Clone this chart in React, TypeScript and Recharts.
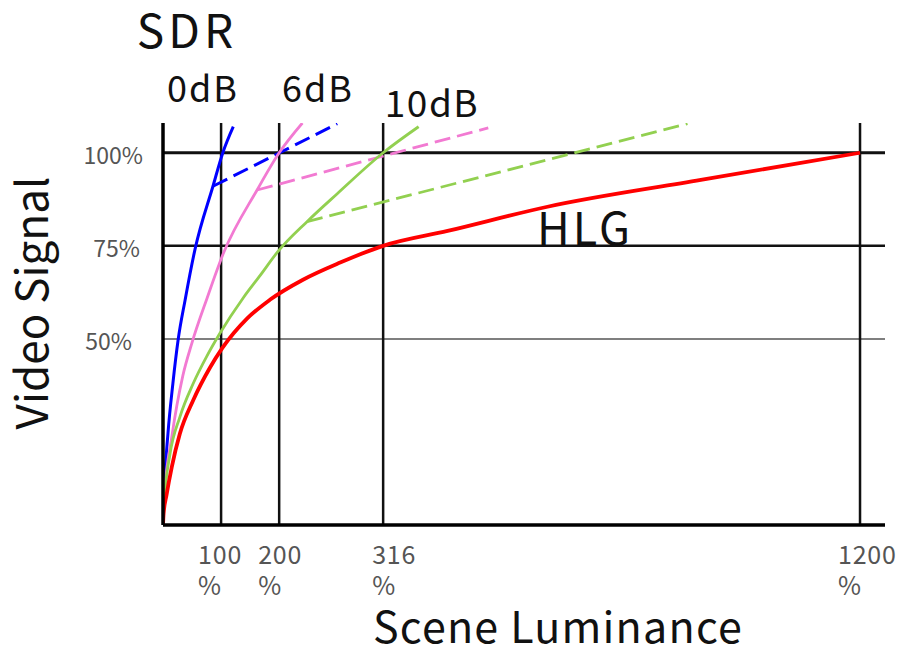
import { LineChart, Line, XAxis, YAxis, ReferenceLine } from "recharts"

// x positions follow the drawing's own spacing (the 316% line sits at 379 on a linear scale)
const xTickValues = [100, 200, 379, 1200]
const xTickLabels = ["100", "200", "316", "1200"]
const yTicks = [50, 75, 100]

const sdr0 = [
  { u: 0, v: 0 }, { u: 2, v: 9 }, { u: 8.6, v: 24.7 }, { u: 17, v: 38 }, { u: 26, v: 49.7 },
  { u: 38, v: 60.4 }, { u: 55, v: 74 }, { u: 86, v: 91 }, { u: 103, v: 100 }, { u: 121, v: 107 },
]
const sdr0Knee = [{ u: 86, v: 91 }, { u: 300, v: 107.8 }]

const sdr6 = [
  { u: 0, v: 0 }, { u: 2, v: 7 }, { u: 15.5, v: 24 }, { u: 34, v: 40 }, { u: 50, v: 49 },
  { u: 76, v: 61 }, { u: 104, v: 73 }, { u: 162, v: 90 }, { u: 200, v: 100 }, { u: 240, v: 108 },
]
const sdr6Knee = [{ u: 162, v: 90 }, { u: 560, v: 106.7 }]

const sdr10 = [
  { u: 0, v: 0 }, { u: 2, v: 6 }, { u: 12, v: 19 }, { u: 29, v: 29 }, { u: 52, v: 38 },
  { u: 76, v: 45.5 }, { u: 98, v: 51.5 }, { u: 138, v: 61 }, { u: 167, v: 67 },
  { u: 198, v: 73.5 }, { u: 248, v: 81.5 }, { u: 300, v: 89 }, { u: 379, v: 100 }, { u: 440, v: 107 },
]
const sdr10Knee = [{ u: 248, v: 81.5 }, { u: 903, v: 107.8 }]

const hlg = [
  { u: 0, v: 0 }, { u: 1, v: 3 }, { u: 6, v: 8 }, { u: 15, v: 15.5 }, { u: 29, v: 24.5 },
  { u: 52, v: 33.5 }, { u: 81, v: 42.3 }, { u: 102, v: 47.5 }, { u: 145, v: 55.5 },
  { u: 184, v: 60.5 }, { u: 241, v: 65.9 }, { u: 305, v: 70.5 }, { u: 379, v: 75 },
  { u: 490, v: 79 }, { u: 662, v: 85.5 }, { u: 926, v: 92.7 }, { u: 1200, v: 100 },
]

const font = '"Noto Sans CJK JP", "Noto Sans", sans-serif'
const xTickShift = [-23, -21, -11, -22]
const yTickShift = [-31, -23, -20]

function XTick({ x, y, payload }: any) {
  const i = xTickValues.indexOf(payload.value)
  const left = x + (xTickShift[i] ?? -20)
  return (
    <g>
      <text x={left} y={y + 39} fontSize={25} letterSpacing={0.8} fill="#555" fontFamily={font}>{xTickLabels[i]}</text>
      <text x={left} y={y + 70} fontSize={25} fill="#555" fontFamily={font}>%</text>
    </g>
  )
}

function YTick({ x, y, payload }: any) {
  const i = yTicks.indexOf(payload.value)
  return (
    <text x={x + (yTickShift[i] ?? -22)} y={y + 11} textAnchor="end" fontSize={23} fill="#555" fontFamily={font}>
      {payload.value}%
    </text>
  )
}

const dash = "16 7"

export default function App() {
  return (
    <div style={{ position: "absolute", left: 0, top: 0 }}>
      <LineChart width={898} height={655} margin={{ top: 123, right: 13, bottom: 0, left: 0 }}>
        <XAxis
          dataKey="u"
          type="number"
          domain={[0, 1243]}
          ticks={xTickValues}
          tick={<XTick />}
          tickSize={0}
          tickMargin={0}
          tickLine={false}
          height={130}
          axisLine={{ stroke: "#000", strokeWidth: 3.5 }}
          allowDataOverflow
        />
        <YAxis
          type="number"
          domain={[0, 108]}
          ticks={yTicks}
          tick={<YTick />}
          tickSize={0}
          tickMargin={0}
          tickLine={false}
          width={163}
          axisLine={{ stroke: "#000", strokeWidth: 3.5 }}
          allowDataOverflow
        />
        {yTicks.map((t) => (
          <ReferenceLine key={"h" + t} y={t} stroke={t === 50 ? "#555" : "#111"} strokeWidth={t === 50 ? 1.5 : t === 100 ? 3 : 2.5} />
        ))}
        {xTickValues.map((t) => (
          <ReferenceLine key={"v" + t} x={t} stroke="#111" strokeWidth={2.5} />
        ))}
        <Line data={sdr0Knee} dataKey="v" type="linear" stroke="#0000ff" strokeWidth={3} strokeDasharray={dash} dot={false} activeDot={false} isAnimationActive={false} />
        <Line data={sdr6Knee} dataKey="v" type="linear" stroke="#f27ad2" strokeWidth={2.8} strokeDasharray={dash} dot={false} activeDot={false} isAnimationActive={false} />
        <Line data={sdr10Knee} dataKey="v" type="linear" stroke="#92d050" strokeWidth={2.8} strokeDasharray={dash} dot={false} activeDot={false} isAnimationActive={false} />
        <Line data={sdr0} dataKey="v" type="monotone" stroke="#0000ff" strokeWidth={3} dot={false} activeDot={false} isAnimationActive={false} />
        <Line data={sdr6} dataKey="v" type="monotone" stroke="#f27ad2" strokeWidth={2.8} dot={false} activeDot={false} isAnimationActive={false} />
        <Line data={sdr10} dataKey="v" type="monotone" stroke="#92d050" strokeWidth={2.8} dot={false} activeDot={false} isAnimationActive={false} />
        <Line data={hlg} dataKey="v" type="monotone" stroke="#ff0000" strokeWidth={3.8} dot={false} activeDot={false} isAnimationActive={false} />
        <text x={187} y={48} textAnchor="middle" fontSize={46} letterSpacing={4} fill="#111" fontFamily={font}>SDR</text>
        <text x={203} y={102} textAnchor="middle" fontSize={36} letterSpacing={2} fill="#111" fontFamily={font}>0dB</text>
        <text x={318} y={102} textAnchor="middle" fontSize={36} letterSpacing={2} fill="#111" fontFamily={font}>6dB</text>
        <text x={432} y={117} textAnchor="middle" fontSize={37} letterSpacing={1.5} fill="#111" fontFamily={font}>10dB</text>
        <text x={585} y={245} textAnchor="middle" fontSize={45} letterSpacing={3} fill="#111" fontFamily={font}>HLG</text>
        <text transform="translate(48,303) rotate(-90)" textAnchor="middle" fontSize={44} fill="#111" fontFamily={font}>Video Signal</text>
        <text x={558} y={643} textAnchor="middle" fontSize={43} letterSpacing={1.2} fill="#111" fontFamily={font}>Scene Luminance</text>
      </LineChart>
    </div>
  )
}
